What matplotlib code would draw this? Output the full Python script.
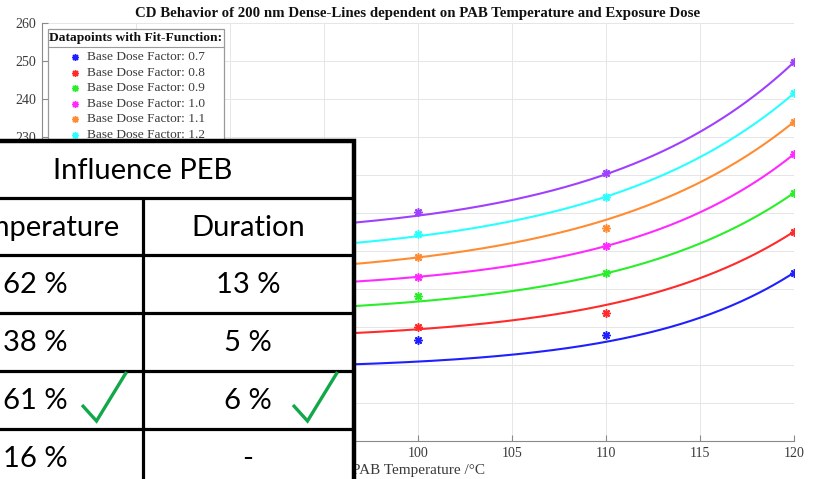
import numpy as np
import matplotlib
matplotlib.use("Agg")
import matplotlib.pyplot as plt
from matplotlib.patches import Rectangle

# ---------------- data ----------------
dose_labels = ["Base Dose Factor: 0.7", "Base Dose Factor: 0.8", "Base Dose Factor: 0.9",
               "Base Dose Factor: 1.0", "Base Dose Factor: 1.1", "Base Dose Factor: 1.2",
               "Base Dose Factor: 1.3"]
series_colors = ["#1f1fff", "#ff2a2a", "#2aee2a", "#ff2aff", "#ff8c33", "#2affff", "#a040ff"]

temps = [100, 110, 120]
cd_07 = [176.6, 177.9, 194.3]
cd_08 = [180.1, 183.6, 205.1]
cd_09 = [188.2, 194.1, 215.3]
cd_10 = [193.2, 201.3, 225.5]
cd_11 = [198.5, 206.0, 234.0]
cd_12 = [204.4, 214.3, 241.5]
cd_13 = [210.2, 220.4, 249.7]

# values of the drawn fit curves (exponential fit), read at 100, 110, 120 degC
fit_07 = [170.9, 176.1, 194.3]
fit_08 = [179.4, 185.8, 205.1]
fit_09 = [186.7, 194.1, 215.3]
fit_10 = [193.2, 201.3, 225.5]
fit_11 = [198.3, 208.2, 234.0]
fit_12 = [203.9, 214.3, 241.5]
fit_13 = [209.3, 220.2, 249.7]

x_ticks = [80, 85, 90, 95, 100, 105, 110, 115, 120]
y_ticks = [150, 160, 170, 180, 190, 200, 210, 220, 230, 240, 250, 260]

title = "CD Behavior of 200 nm Dense-Lines dependent on PAB Temperature and Exposure Dose"
xlabel = "PAB Temperature /\u00b0C"
legend_title = "Datapoints with Fit-Function:"

table_title = "Influence PEB"
table_headers = ["Temperature", "Duration"]
temperature_vals = ["62 %", "38 %", "61 %", "16 %"]
duration_vals = ["13 %", "5 %", "6 %", "-"]
checked_row = 2

cd_series = [cd_07, cd_08, cd_09, cd_10, cd_11, cd_12, cd_13]
fit_series = [fit_07, fit_08, fit_09, fit_10, fit_11, fit_12, fit_13]


def exp_fit(f):
    # f(x) = a + b*exp(k*(x-100)) through three equally spaced readings
    d1 = f[1] - f[0]
    d2 = f[2] - f[1]
    r = d2 / d1
    k = np.log(r) / 10.0
    b = d1 / (r - 1.0)
    a = f[0] - b
    return lambda x: a + b * np.exp(k * (x - 100.0))


# ---------------- figure ----------------
W, H = 817, 479
fig = plt.figure(figsize=(W / 100, H / 100), dpi=100)
serif = ["Liberation Serif", "DejaVu Serif"]
txt_col = "#3a3a3a"
star = (8, 2, 0)

ax = fig.add_axes([42 / W, 1 - 441 / H, (794 - 42) / W, (441 - 23) / H])
xs = np.linspace(80, 120, 300)
for vals, fvals, c in zip(cd_series, fit_series, series_colors):
    f = exp_fit(fvals)
    ax.plot(xs, f(xs), color=c, lw=1.5, zorder=3)
    ax.plot(temps, vals, linestyle="none", marker=star, color=c, ms=6, mew=1.1, zorder=4)

ax.set_xlim(80, 120)
ax.set_ylim(150, 260)
ax.set_xticks(x_ticks)
ax.set_yticks(y_ticks)
ax.grid(True, color="#e6e6e6", lw=0.7)
ax.set_axisbelow(True)
for s in ["top", "right"]:
    ax.spines[s].set_visible(False)
for s in ["left", "bottom"]:
    ax.spines[s].set_color("#8a8a8a")
    ax.spines[s].set_linewidth(0.8)
ax.tick_params(direction="in", length=4, width=0.8, color="#8a8a8a", labelcolor=txt_col,
               labelsize=10, pad=4)
for lab in ax.get_xticklabels() + ax.get_yticklabels():
    lab.set_family(serif)
# tick labels below 230 lie under the table overlay
for val, lab in zip(y_ticks, ax.get_yticklabels()):
    if val < 230:
        lab.set_visible(False)
for val, lab in zip(x_ticks, ax.get_xticklabels()):
    if val < 100:
        lab.set_visible(False)
ax.set_title(title, fontsize=10.7, fontweight="bold", family=serif, color="#111111", pad=4)
ax.set_xlabel(xlabel, fontsize=11, family=serif, color=txt_col, labelpad=3)

# ---------------- overlay (legend + table) ----------------
ov = fig.add_axes([0, 0, 1, 1], zorder=10)
ov.set_xlim(0, W)
ov.set_ylim(H, 0)
ov.axis("off")

# legend
ov.add_patch(Rectangle((48, 29), 176, 150, facecolor="white", edgecolor="#9a9a9a", lw=0.9, zorder=1))
ov.text(136, 38, legend_title, ha="center", va="center", fontsize=9.7, fontweight="bold",
        family=serif, color="#111111", zorder=2)
ov.plot([48, 224], [47, 47], color="#9a9a9a", lw=0.8, zorder=2)
for i, (lab, c) in enumerate(zip(dose_labels, series_colors)):
    yy = 57 + 15.6 * i
    ov.plot([75], [yy], marker=star, color=c, ms=5, mew=1.0, zorder=2)
    ov.text(87, yy, lab, ha="left", va="center", fontsize=9.6, family=serif, color=txt_col, zorder=2)

# table
tfont = ["Lato", "DejaVu Sans"]
ov.add_patch(Rectangle((-10, 141), 364.5, 350, facecolor="white", edgecolor="black", lw=3.2, zorder=5))
for yy in [198, 255, 313, 371, 429]:
    ov.plot([-10, 353], [yy, yy], color="black", lw=2.3, zorder=6, solid_capstyle="butt")
ov.plot([143.5, 143.5], [198, 490], color="black", lw=2.3, zorder=6, solid_capstyle="butt")

fs_t = 21
ov.text(143, 171, table_title, ha="center", va="center", fontsize=fs_t, family=tfont, color="black", zorder=7)
ov.text(120, 228, table_headers[0], ha="right", va="center", fontsize=fs_t, family=tfont, color="black", zorder=7)
ov.text(248, 228, table_headers[1], ha="center", va="center", fontsize=fs_t, family=tfont, color="black", zorder=7)
row_y = [285, 343, 401, 459]
for i, (tv, dv) in enumerate(zip(temperature_vals, duration_vals)):
    ov.text(68, row_y[i], tv, ha="right", va="center", fontsize=fs_t, family=tfont, color="black", zorder=7)
    ov.text(248, row_y[i], dv, ha="center", va="center", fontsize=fs_t, family=tfont, color="black", zorder=7)

# check marks
ck = "#12a84a"
cy = row_y[checked_row]
for x0 in [82, 293]:
    ov.plot([x0, x0 + 14.5, x0 + 44.5], [cy + 4, cy + 20, cy - 29], color=ck, lw=2.4, zorder=8,
            solid_joinstyle="miter", solid_capstyle="butt")

fig.savefig("out.png", dpi=100)
